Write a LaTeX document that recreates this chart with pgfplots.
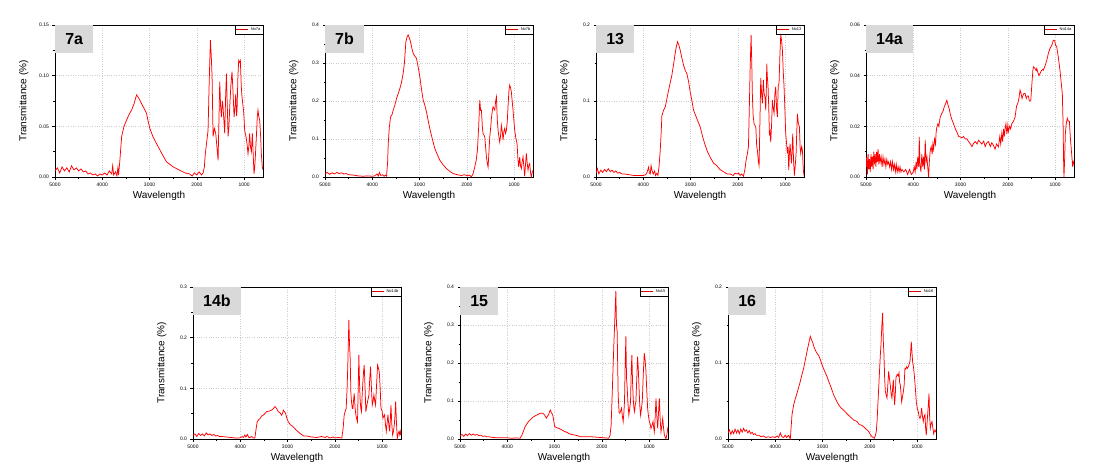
\documentclass[border=0pt]{standalone}
\usepackage{pgfplots}
\pgfplotsset{compat=1.18}
\usepackage{fontspec}
\setmainfont{Liberation Sans}
\pgfplotsset{
 panel/.style={
  scale only axis, width=208pt, height=152pt,
  x dir=reverse, xmin=600, xmax=5000, ymin=0,
  xtick={1000,2000,3000,4000,5000},
  minor x tick num=1, minor y tick num=1,
  tick align=outside, tick pos=left,
  major tick length=2.5pt, minor tick length=1.5pt,
  grid=major, major grid style={gray!40, dotted, line width=0.5pt},
  axis line style={black, line width=0.6pt},
  every tick/.style={black, line width=0.5pt},
  tick label style={font=\fontsize{5}{6}\selectfont},
  xticklabel style={/pgf/number format/set thousands separator={}},
  scaled y ticks=false, scaled x ticks=false,
  label style={font=\fontsize{7}{8}\selectfont},
  xlabel={Wavelength}, ylabel={Transmittance (\%)},
  every axis x label/.style={at={(axis description cs:0.5,-0.125)}, anchor=center},
  every axis y label/.style={at={(axis description cs:-0.15,0.5)}, anchor=center, rotate=90},
  legend style={at={(axis description cs:1,1)}, anchor=north east, draw=black, line width=0.4pt, fill=white,
    font=\fontsize{4}{4.5}\selectfont, inner sep=0.6pt, outer sep=0pt},
  legend image code/.code={\draw[draw=red!85!black, line width=0.7pt] (0pt,0pt) -- (12pt,0pt);},
  /pgf/number format/assume math mode=true,
  yticklabel style={/pgf/number format/fixed, /pgf/number format/fixed zerofill},
 },
 spec/.style={color=red, line width=0.75pt, no marks},
 two/.style={yticklabel style={/pgf/number format/precision=2}},
 one/.style={yticklabel style={/pgf/number format/precision=1}},
}
\newcommand{\tag}[1]{\node[fill=gray!30, anchor=north west, minimum height=28pt, minimum width=38pt, inner xsep=10pt, font=\fontsize{16}{16}\selectfont\bfseries] at (axis description cs:0,1) {#1};}
\begin{document}
\begin{tikzpicture}
\useasboundingbox (0pt,0pt) rectangle (1116pt,475pt);
% ---------- 7a
\begin{axis}[panel, two, at={(55pt,298pt)}, anchor=south west, ymax=0.15, ytick={0,0.05,0.10,0.15}]
\addplot[spec] coordinates {
(5000,0.006)(4950,0.009)(4900,0.004)(4850,0.010)(4800,0.006)(4750,0.009)(4700,0.005)(4650,0.011)(4600,0.007)(4550,0.009)(4500,0.006)(4450,0.008)(4400,0.005)(4350,0.006)(4300,0.003)(4250,0.004)(4200,0.002)(4150,0.003)(4100,0.001)(4050,0.003)(4000,0.002)(3950,0.004)(3900,0.002)(3850,0.006)(3800,0.003)(3780,0.011)(3760,0.002)(3720,0.005)(3690,0.001)(3670,0.009)(3655,0.002)
(3630,0.015)(3590,0.040)(3540,0.050)(3487,0.056)(3430,0.062)(3380,0.066)(3330,0.072)(3275,0.081)(3230,0.078)(3170,0.0725)(3120,0.068)(3064,0.063)(3030,0.055)(2994,0.048)(2930,0.040)(2853,0.033)(2750,0.024)(2642,0.015)(2500,0.010)(2360,0.0066)(2250,0.004)(2149,0.003)(2100,0.001)(2050,0.004)(2000,0.002)(1950,0.005)(1900,0.002)(1867,0.004)
(1840,0.010)(1820,0.023)(1790,0.035)(1762,0.046)(1740,0.090)(1713,0.135)(1695,0.120)(1677,0.099)(1656,0.040)(1628,0.048)(1600,0.043)(1575,0.030)(1550,0.0165)(1530,0.060)(1515,0.094)(1497,0.070)(1480,0.059)(1460,0.075)(1445,0.069)(1410,0.043)(1390,0.080)(1374,0.102)(1355,0.070)(1339,0.040)(1320,0.050)(1304,0.069)(1280,0.090)(1255,0.104)(1230,0.080)(1212,0.059)(1190,0.070)(1177,0.082)(1160,0.060)(1149,0.066)(1130,0.100)(1114,0.115)(1095,0.113)(1079,0.115)(1060,0.090)(1044,0.079)(1010,0.065)(987,0.046)(960,0.040)(938,0.033)(917,0.023)(900,0.030)(882,0.043)(865,0.030)(846,0.025)(825,0.043)(805,0.020)(790,0.003)(775,0.010)(762,0.020)(740,0.040)(720,0.060)(706,0.066)(690,0.060)(670,0.056)(650,0.040)(635,0.023)(615,0.010)(600,0.007)};
\addlegendentry{No7a}
\tag{7a}
\end{axis}
% ---------- 7b
\begin{axis}[panel, one, at={(325pt,298pt)}, anchor=south west, ymax=0.4, ytick={0,0.1,0.2,0.3,0.4}]
\addplot[spec] coordinates {
(5000,0.008)(4950,0.012)(4900,0.007)(4850,0.011)(4800,0.008)(4750,0.012)(4700,0.009)(4650,0.011)(4600,0.008)(4550,0.009)(4500,0.006)(4400,0.005)(4300,0.003)(4200,0.002)(4100,0.003)(4000,0.002)(3950,0.003)(3900,0.008)(3870,0.003)(3850,0.012)(3820,0.004)(3780,0.006)(3750,0.002)(3720,0.005)(3698,0.002)
(3675,0.040)(3662,0.088)(3640,0.130)(3613,0.158)(3580,0.165)(3557,0.176)(3520,0.190)(3486,0.207)(3450,0.220)(3416,0.233)(3380,0.250)(3346,0.273)(3320,0.300)(3289,0.356)(3260,0.370)(3240,0.374)(3215,0.365)(3191,0.356)(3165,0.340)(3134,0.325)(3100,0.318)(3064,0.312)(3030,0.290)(2994,0.264)(2960,0.232)(2923,0.202)(2890,0.190)(2853,0.171)(2820,0.150)(2782,0.127)(2730,0.100)(2677,0.075)(2620,0.058)(2571,0.044)(2500,0.032)(2430,0.022)(2360,0.015)(2290,0.009)(2200,0.006)(2114,0.004)(2050,0.006)(1990,0.003)(1950,0.005)(1902,0.001)
(1870,0.008)(1832,0.026)(1800,0.045)(1776,0.070)(1750,0.130)(1726,0.202)(1708,0.175)(1691,0.176)(1670,0.130)(1656,0.114)(1635,0.110)(1620,0.105)(1600,0.075)(1585,0.053)(1565,0.035)(1550,0.026)(1530,0.070)(1515,0.105)(1495,0.130)(1480,0.154)(1460,0.175)(1445,0.185)(1425,0.180)(1409,0.176)(1390,0.200)(1374,0.211)(1355,0.150)(1339,0.123)(1320,0.105)(1304,0.092)(1285,0.110)(1269,0.136)(1250,0.120)(1234,0.097)(1215,0.120)(1198,0.128)(1180,0.115)(1163,0.123)(1145,0.145)(1128,0.185)(1110,0.225)(1093,0.242)(1075,0.235)(1058,0.224)(1040,0.200)(1022,0.176)(1005,0.150)(987,0.123)(960,0.100)(937,0.088)(920,0.050)(902,0.026)(881,0.053)(865,0.030)(846,0.022)(830,0.040)(811,0.053)(795,0.030)(776,0.002)(760,0.030)(741,0.062)(725,0.040)(705,0.018)(690,0.030)(670,0.035)(650,0.010)(635,0.000)(620,0.010)(600,0.018)};
\addlegendentry{No7b}
\tag{7b}
\end{axis}
% ---------- 13
\begin{axis}[panel, one, at={(596pt,298pt)}, anchor=south west, ymax=0.2, ytick={0,0.1,0.2}]
\addplot[spec] coordinates {
(5000,0.005)(4970,0.011)(4940,0.004)(4900,0.009)(4860,0.006)(4820,0.010)(4780,0.007)(4740,0.011)(4700,0.007)(4660,0.009)(4620,0.006)(4580,0.008)(4540,0.005)(4500,0.006)(4450,0.004)(4400,0.004)(4300,0.003)(4200,0.002)(4100,0.002)(4000,0.002)(3950,0.003)(3920,0.006)(3887,0.013)(3870,0.005)(3852,0.004)(3835,0.015)(3817,0.009)(3790,0.004)(3760,0.008)(3740,0.002)(3712,0.005)(3690,0.002)
(3665,0.015)(3641,0.035)(3620,0.060)(3606,0.081)(3570,0.088)(3536,0.092)(3500,0.103)(3465,0.114)(3430,0.124)(3395,0.134)(3360,0.148)(3324,0.163)(3300,0.172)(3275,0.178)(3250,0.174)(3219,0.167)(3185,0.157)(3148,0.147)(3110,0.140)(3078,0.136)(3040,0.125)(3008,0.112)(2970,0.100)(2937,0.088)(2900,0.082)(2867,0.077)(2830,0.071)(2796,0.066)(2740,0.052)(2691,0.042)(2640,0.033)(2585,0.026)(2510,0.018)(2445,0.015)(2380,0.010)(2304,0.007)(2230,0.004)(2163,0.004)(2100,0.002)(2060,0.005)(2022,0.004)(1980,0.005)(1950,0.002)(1920,0.004)(1881,0.001)
(1850,0.010)(1825,0.022)(1800,0.030)(1775,0.040)(1757,0.090)(1740,0.141)(1719,0.187)(1705,0.150)(1691,0.105)(1675,0.080)(1656,0.070)(1640,0.068)(1620,0.066)(1600,0.040)(1585,0.035)(1565,0.020)(1550,0.015)(1530,0.080)(1515,0.130)(1497,0.110)(1480,0.097)(1460,0.128)(1444,0.110)(1425,0.105)(1409,0.088)(1395,0.120)(1388,0.149)(1374,0.130)(1360,0.119)(1345,0.090)(1332,0.057)(1318,0.060)(1304,0.046)(1285,0.070)(1269,0.101)(1250,0.090)(1233,0.084)(1215,0.110)(1198,0.119)(1180,0.090)(1163,0.079)(1145,0.120)(1128,0.123)(1110,0.160)(1092,0.187)(1075,0.180)(1057,0.167)(1040,0.140)(1022,0.119)(1005,0.090)(987,0.057)(970,0.045)(951,0.031)(937,0.040)(923,0.009)(909,0.030)(895,0.044)(880,0.030)(866,0.018)(852,0.035)(838,0.057)(820,0.020)(803,0.002)(785,0.015)(767,0.031)(753,0.060)(739,0.083)(718,0.070)(697,0.066)(683,0.040)(669,0.031)(650,0.040)(633,0.035)(615,0.010)(600,0.002)};
\addlegendentry{No13}
\tag{13}
\end{axis}
% ---------- 14a
\begin{axis}[panel, two, at={(866pt,298pt)}, anchor=south west, ymax=0.06, ytick={0,0.02,0.04,0.06}]
\addplot[spec] coordinates {
(5000,0.004)(4985,0.008)(4970,0.001)(4955,0.009)(4940,0.003)(4925,0.007)(4910,0.002)(4895,0.009)(4880,0.004)(4865,0.008)(4850,0.003)(4835,0.010)(4820,0.005)(4805,0.009)(4790,0.004)(4775,0.010)(4760,0.006)(4745,0.011)(4730,0.005)(4715,0.009)(4700,0.006)(4680,0.008)(4660,0.004)(4640,0.008)(4620,0.005)(4600,0.007)(4580,0.004)(4560,0.007)(4540,0.005)(4520,0.006)(4500,0.004)(4480,0.006)(4460,0.003)(4440,0.006)(4420,0.003)(4400,0.005)(4380,0.002)(4360,0.005)(4340,0.002)(4320,0.004)(4300,0.002)(4280,0.004)(4260,0.002)(4240,0.003)(4200,0.002)(4160,0.003)(4120,0.001)(4080,0.003)(4040,0.001)(4000,0.002)(3980,0.004)(3960,0.002)(3940,0.006)(3923,0.003)(3905,0.008)(3885,0.004)(3873,0.0158)(3860,0.005)(3838,0.002)(3820,0.009)(3800,0.004)(3782,0.008)(3765,0.003)(3747,0.0145)(3730,0.006)(3712,0.008)(3690,0.003)(3676,0.000)(3660,0.006)(3641,0.0105)(3620,0.012)(3600,0.009)(3585,0.013)(3570,0.011)(3550,0.015)(3530,0.013)(3515,0.018)(3500,0.0198)(3480,0.021)(3460,0.020)(3430,0.0237)(3400,0.025)(3370,0.026)(3345,0.0277)(3315,0.029)(3289,0.0303)(3260,0.028)(3240,0.027)(3219,0.025)(3190,0.023)(3148,0.021)(3110,0.019)(3078,0.0178)(3040,0.016)(3008,0.0158)(2970,0.0155)(2940,0.016)(2900,0.015)(2867,0.0151)(2830,0.014)(2790,0.013)(2760,0.012)(2726,0.0132)(2690,0.014)(2650,0.013)(2620,0.0145)(2585,0.0138)(2550,0.013)(2510,0.0142)(2480,0.012)(2445,0.0135)(2410,0.014)(2370,0.012)(2340,0.0135)(2304,0.0125)(2270,0.011)(2240,0.013)(2199,0.0119)(2170,0.016)(2150,0.013)(2128,0.0172)(2110,0.014)(2090,0.019)(2075,0.016)(2058,0.019)(2040,0.021)(2020,0.017)(2000,0.0205)(1987,0.018)(1960,0.020)(1940,0.019)(1917,0.021)(1880,0.022)(1846,0.0237)(1815,0.028)(1790,0.029)(1765,0.031)(1741,0.0343)(1720,0.033)(1700,0.031)(1684,0.032)(1660,0.033)(1635,0.033)(1610,0.031)(1590,0.032)(1565,0.032)(1545,0.030)(1515,0.030)(1490,0.037)(1470,0.042)(1459,0.0435)(1430,0.043)(1400,0.042)(1388,0.0428)(1360,0.041)(1340,0.040)(1318,0.0409)(1290,0.042)(1260,0.0425)(1248,0.0422)(1210,0.044)(1177,0.046)(1140,0.049)(1107,0.0508)(1070,0.052)(1036,0.054)(1010,0.054)(990,0.052)(966,0.0515)(930,0.047)(896,0.042)(870,0.037)(847,0.033)(830,0.020)(818,0.004)(812,0.000)(800,0.006)(783,0.017)(765,0.021)(741,0.0232)(720,0.022)(698,0.022)(675,0.015)(649,0.009)(628,0.004)(615,0.006)(600,0.005)};
\addlegendentry{No14a}
\tag{14a}
\end{axis}
% ---------- 14b
\begin{axis}[panel, one, at={(193pt,36pt)}, anchor=south west, ymax=0.3, ytick={0,0.1,0.2,0.3}]
\addplot[spec] coordinates {
(5000,0.007)(4960,0.010)(4920,0.005)(4880,0.011)(4840,0.007)(4800,0.010)(4760,0.006)(4720,0.012)(4680,0.008)(4640,0.010)(4600,0.007)(4560,0.009)(4520,0.006)(4480,0.007)(4440,0.005)(4400,0.005)(4300,0.004)(4200,0.003)(4100,0.002)(4010,0.002)(3960,0.005)(3930,0.003)(3903,0.008)(3880,0.004)(3850,0.009)(3820,0.003)(3797,0.003)(3760,0.005)(3720,0.002)(3691,0.002)
(3665,0.020)(3642,0.034)(3610,0.038)(3585,0.040)(3550,0.045)(3514,0.047)(3480,0.050)(3444,0.054)(3390,0.055)(3338,0.057)(3300,0.060)(3267,0.064)(3230,0.060)(3196,0.054)(3160,0.052)(3125,0.047)(3100,0.052)(3090,0.057)(3065,0.054)(3040,0.050)(3010,0.040)(2984,0.034)(2940,0.028)(2878,0.024)(2810,0.017)(2736,0.011)(2660,0.006)(2595,0.006)(2500,0.004)(2383,0.003)(2280,0.005)(2200,0.003)(2170,0.005)(2100,0.002)(2040,0.004)(1994,0.002)(1930,0.003)(1852,0.002)
(1825,0.020)(1802,0.047)(1780,0.055)(1760,0.060)(1740,0.100)(1725,0.146)(1703,0.235)(1690,0.190)(1675,0.159)(1660,0.090)(1647,0.074)(1630,0.060)(1618,0.060)(1605,0.075)(1590,0.090)(1570,0.060)(1555,0.048)(1538,0.040)(1520,0.034)(1505,0.100)(1491,0.166)(1477,0.110)(1463,0.074)(1449,0.060)(1435,0.054)(1420,0.090)(1406,0.113)(1390,0.135)(1378,0.146)(1360,0.100)(1343,0.054)(1325,0.065)(1307,0.074)(1293,0.080)(1279,0.087)(1260,0.120)(1244,0.143)(1225,0.100)(1208,0.067)(1190,0.075)(1173,0.087)(1155,0.075)(1138,0.067)(1115,0.110)(1095,0.146)(1078,0.140)(1060,0.133)(1040,0.100)(1024,0.061)(1000,0.055)(982,0.041)(965,0.045)(947,0.048)(930,0.030)(911,0.015)(895,0.030)(876,0.048)(860,0.030)(840,0.015)(825,0.040)(812,0.067)(795,0.030)(777,0.008)(760,0.015)(741,0.028)(725,0.050)(713,0.074)(695,0.030)(678,0.001)(660,0.010)(642,0.015)(625,0.008)(614,0.015)(600,0.008)};
\addlegendentry{No14b}
\tag{14b}
\end{axis}
% ---------- 15
\begin{axis}[panel, one, at={(460pt,36pt)}, anchor=south west, ymax=0.4, ytick={0,0.1,0.2,0.3,0.4}]
\addplot[spec] coordinates {
(5000,0.008)(4960,0.012)(4920,0.007)(4880,0.013)(4840,0.009)(4800,0.014)(4760,0.010)(4720,0.013)(4680,0.010)(4640,0.012)(4600,0.009)(4560,0.010)(4520,0.007)(4480,0.008)(4440,0.006)(4400,0.006)(4300,0.004)(4200,0.003)(4100,0.003)(3995,0.003)(3900,0.002)(3800,0.003)(3727,0.002)
(3691,0.010)(3660,0.020)(3621,0.033)(3585,0.040)(3550,0.046)(3515,0.050)(3479,0.055)(3450,0.058)(3430,0.059)(3400,0.062)(3373,0.063)(3340,0.065)(3302,0.068)(3270,0.068)(3246,0.068)(3210,0.063)(3175,0.055)(3150,0.060)(3125,0.064)(3105,0.072)(3090,0.076)(3070,0.070)(3040,0.064)(3020,0.050)(2998,0.033)(2960,0.030)(2913,0.028)(2860,0.025)(2807,0.021)(2750,0.018)(2701,0.015)(2650,0.012)(2595,0.011)(2520,0.009)(2454,0.006)(2350,0.006)(2241,0.006)(2130,0.005)(2029,0.004)(1940,0.003)(1852,0.002)
(1825,0.010)(1803,0.037)(1785,0.100)(1767,0.169)(1745,0.250)(1725,0.314)(1703,0.389)(1690,0.300)(1675,0.283)(1665,0.200)(1654,0.116)(1635,0.070)(1618,0.068)(1600,0.075)(1583,0.081)(1565,0.060)(1548,0.046)(1533,0.070)(1520,0.099)(1505,0.200)(1491,0.270)(1477,0.160)(1463,0.134)(1445,0.090)(1428,0.063)(1410,0.080)(1392,0.099)(1378,0.180)(1364,0.221)(1350,0.150)(1336,0.107)(1320,0.080)(1307,0.072)(1293,0.090)(1279,0.099)(1260,0.160)(1244,0.217)(1230,0.190)(1215,0.143)(1198,0.090)(1180,0.063)(1162,0.080)(1144,0.099)(1123,0.170)(1102,0.226)(1085,0.210)(1066,0.178)(1050,0.130)(1031,0.081)(1013,0.060)(995,0.046)(978,0.040)(960,0.028)(940,0.035)(917,0.046)(903,0.030)(889,0.019)(870,0.060)(854,0.107)(836,0.060)(818,0.028)(800,0.070)(783,0.107)(765,0.050)(748,0.019)(730,0.035)(712,0.054)(695,0.030)(677,0.011)(660,0.005)(642,0.000)(620,0.015)(600,0.032)};
\addlegendentry{No15}
\tag{15}
\end{axis}
% ---------- 16
\begin{axis}[panel, one, at={(728pt,36pt)}, anchor=south west, ymax=0.2, ytick={0,0.1,0.2}]
\addplot[spec] coordinates {
(5000,0.008)(4970,0.012)(4940,0.006)(4910,0.011)(4880,0.007)(4850,0.013)(4820,0.008)(4790,0.012)(4760,0.007)(4730,0.013)(4700,0.009)(4670,0.014)(4640,0.010)(4610,0.012)(4580,0.008)(4550,0.011)(4520,0.007)(4490,0.009)(4460,0.006)(4430,0.007)(4400,0.005)(4350,0.005)(4300,0.003)(4250,0.004)(4200,0.002)(4150,0.003)(4100,0.002)(4050,0.003)(4006,0.002)(3960,0.004)(3930,0.002)(3893,0.008)(3860,0.003)(3823,0.002)(3790,0.005)(3760,0.002)(3717,0.005)(3682,0.000)
(3665,0.015)(3646,0.032)(3611,0.045)(3576,0.053)(3541,0.060)(3505,0.068)(3470,0.076)(3435,0.085)(3400,0.093)(3365,0.104)(3329,0.115)(3295,0.125)(3259,0.135)(3230,0.130)(3202,0.126)(3175,0.120)(3153,0.117)(3120,0.113)(3083,0.110)(3050,0.105)(3012,0.098)(2975,0.092)(2941,0.087)(2905,0.082)(2871,0.076)(2820,0.068)(2765,0.058)(2710,0.051)(2659,0.045)(2610,0.041)(2554,0.038)(2480,0.033)(2413,0.029)(2340,0.025)(2272,0.023)(2220,0.019)(2166,0.018)(2130,0.016)(2095,0.014)(2060,0.012)(2025,0.010)(1990,0.006)(1954,0.003)(1925,0.002)(1905,0.001)
(1885,0.004)(1863,0.010)(1845,0.025)(1827,0.049)(1810,0.070)(1792,0.093)(1778,0.110)(1764,0.124)(1745,0.150)(1729,0.166)(1715,0.130)(1701,0.111)(1686,0.080)(1672,0.063)(1655,0.058)(1637,0.054)(1620,0.070)(1602,0.089)(1585,0.080)(1567,0.071)(1550,0.060)(1532,0.054)(1518,0.066)(1503,0.078)(1490,0.060)(1475,0.045)(1460,0.060)(1447,0.081)(1433,0.083)(1419,0.085)(1400,0.083)(1383,0.087)(1370,0.075)(1355,0.071)(1340,0.060)(1327,0.049)(1310,0.055)(1292,0.062)(1275,0.070)(1257,0.093)(1240,0.092)(1221,0.095)(1205,0.093)(1186,0.095)(1170,0.098)(1151,0.102)(1137,0.113)(1123,0.128)(1109,0.115)(1095,0.102)(1077,0.095)(1059,0.084)(1040,0.070)(1017,0.049)(995,0.040)(975,0.036)(958,0.030)(940,0.027)(922,0.030)(904,0.041)(887,0.030)(869,0.023)(851,0.030)(833,0.032)(820,0.015)(805,0.005)(790,0.020)(777,0.032)(762,0.045)(748,0.060)(735,0.030)(720,0.014)(703,0.020)(685,0.023)(667,0.015)(649,0.007)(635,0.010)(621,0.012)(610,0.010)(600,0.009)};
\addlegendentry{No16}
\tag{16}
\end{axis}
\end{tikzpicture}
\end{document}
